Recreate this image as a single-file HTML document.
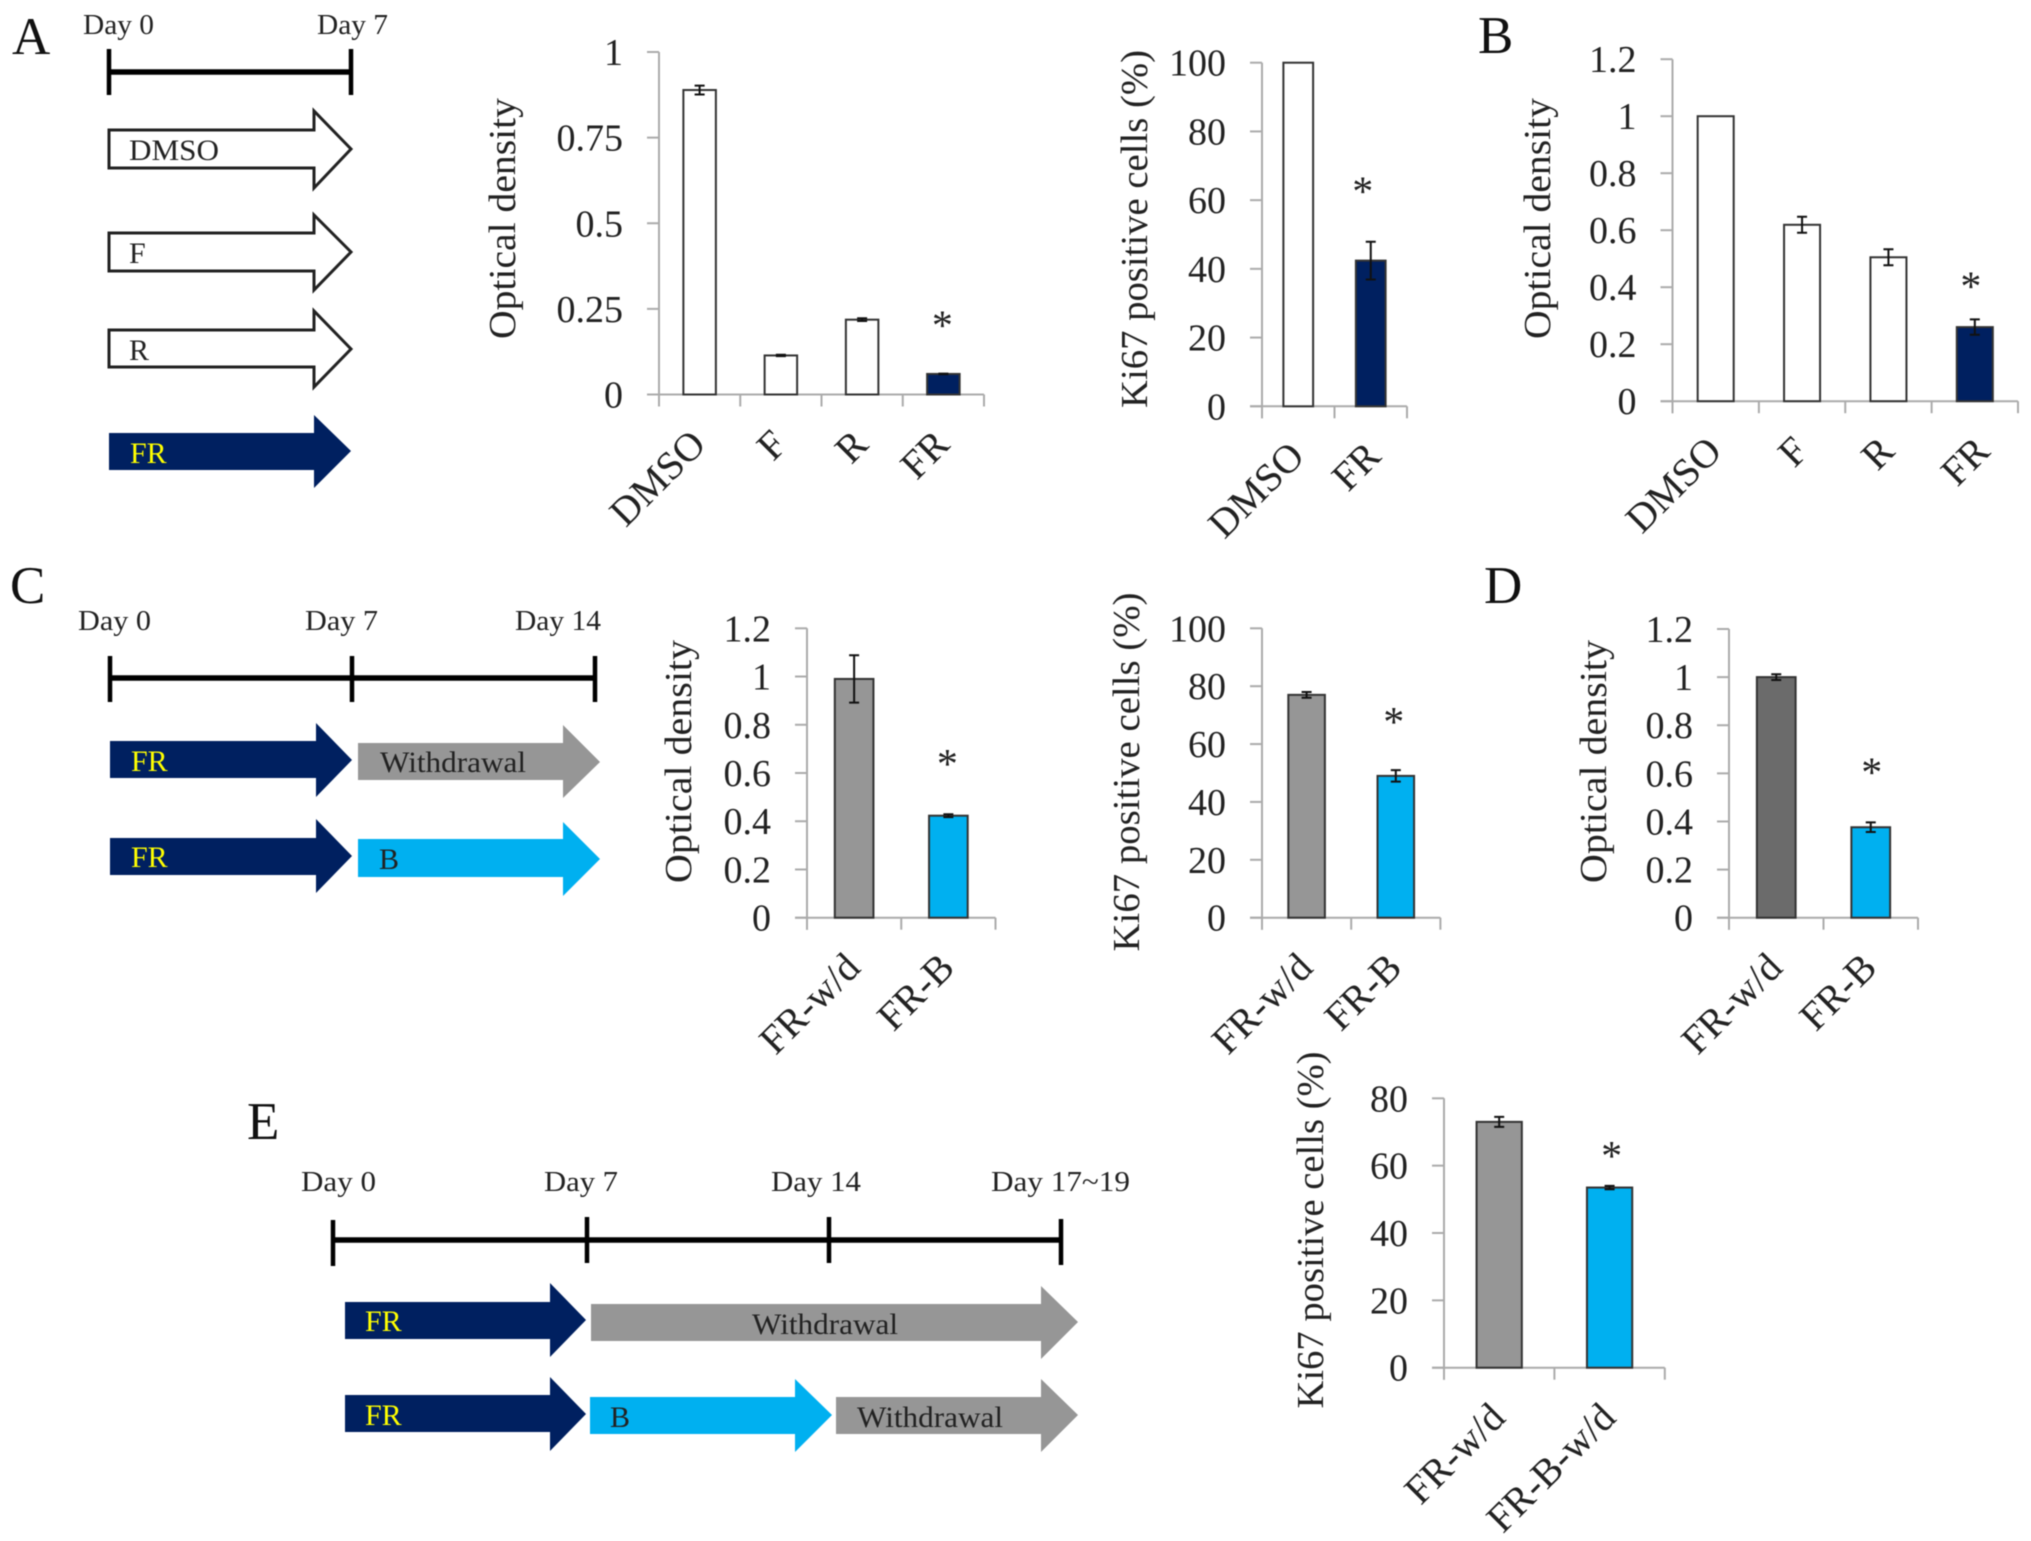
<!DOCTYPE html>
<html lang="en">
<head>
<meta charset="utf-8">
<title>Optical density and Ki67 panels A-E</title>
<style>
html,body{margin:0;padding:0;background:#fff;}
svg{display:block;filter:blur(0.5px);}
text{font-family:"Liberation Serif",serif;fill:#222;}
.panel{font-size:53px;fill:#111;}
.day{font-size:29px;}
.lbl{font-size:30px;}
.fr{font-size:30px;fill:#ffff00;}
.tl{stroke:#000;fill:none;}
</style>
</head>
<body>
<svg id="figure" xmlns="http://www.w3.org/2000/svg" width="2031" height="1541" viewBox="0 0 2031 1541">
<rect x="0" y="0" width="2031" height="1541" fill="#fff"/>

<text class="panel" x="12" y="54">A</text>
<text class="panel" x="1478" y="53">B</text>
<text class="panel" x="10" y="603">C</text>
<text class="panel" x="1484" y="603">D</text>
<text class="panel" x="247" y="1139">E</text>

<g>
<path class="tl" stroke-width="5.5" d="M109 72H351"/>
<path class="tl" stroke-width="4.5" d="M109 49V95M351 49V95"/>
<text class="day" x="83" y="34" textLength="71" lengthAdjust="spacingAndGlyphs">Day 0</text>
<text class="day" x="317" y="34" textLength="71" lengthAdjust="spacingAndGlyphs">Day 7</text>
</g>
<g>
<polygon points="109,130 314,130 314,111 351,149 314,188 314,168 109,168" fill="#fff" stroke="#222" stroke-width="3"/>
<text class="lbl" x="129" y="160" textLength="90" lengthAdjust="spacingAndGlyphs">DMSO</text>
<polygon points="109,233 314,233 314,215 351,252 314,290 314,271 109,271" fill="#fff" stroke="#222" stroke-width="3"/>
<text class="lbl" x="129" y="263">F</text>
<polygon points="109,330 314,330 314,311 351,349 314,387 314,367 109,367" fill="#fff" stroke="#222" stroke-width="3"/>
<text class="lbl" x="129" y="360">R</text>
<polygon points="109,433 314,433 314,415 351,451 314,488 314,470 109,470" fill="#002060"/>
<text class="fr" x="130" y="463">FR</text>
</g>

<g>
<path class="tl" stroke-width="5.5" d="M109 678H595"/>
<path class="tl" stroke-width="4.5" d="M110 656V702M352 656V702M595 656V702"/>
<text class="day" x="78" y="630" textLength="73" lengthAdjust="spacingAndGlyphs">Day 0</text>
<text class="day" x="305" y="630" textLength="73" lengthAdjust="spacingAndGlyphs">Day 7</text>
<text class="day" x="515" y="630" textLength="86" lengthAdjust="spacingAndGlyphs">Day 14</text>
</g>
<g>
<polygon points="110,741 316,741 316,723 352,760 316,797 316,778 110,778" fill="#002060"/>
<text class="fr" x="131" y="771">FR</text>
<polygon points="358,743 563,743 563,725 600,762 563,798 563,780 358,780" fill="#969696"/>
<text class="lbl" x="380" y="772" textLength="146" lengthAdjust="spacingAndGlyphs">Withdrawal</text>
<polygon points="110,838 316,838 316,819 352,856 316,893 316,875 110,875" fill="#002060"/>
<text class="fr" x="131" y="867">FR</text>
<polygon points="358,839 563,839 563,822 600,859 563,896 563,877 358,877" fill="#00b0f0"/>
<text class="lbl" x="379" y="869" fill="#222">B</text>
</g>

<g>
<path class="tl" stroke-width="5.5" d="M333 1240H1061"/>
<path class="tl" stroke-width="4.5" d="M333 1220V1266M587 1217V1263M829 1217V1263M1061 1219V1265"/>
<text class="day" x="301" y="1191" textLength="75" lengthAdjust="spacingAndGlyphs">Day 0</text>
<text class="day" x="544" y="1191" textLength="74" lengthAdjust="spacingAndGlyphs">Day 7</text>
<text class="day" x="771" y="1191" textLength="90" lengthAdjust="spacingAndGlyphs">Day 14</text>
<text class="day" x="991" y="1191" textLength="139" lengthAdjust="spacingAndGlyphs">Day 17~19</text>
</g>
<g>
<polygon points="345,1302 550,1302 550,1283 586,1320 550,1357 550,1339 345,1339" fill="#002060"/>
<text class="fr" x="365" y="1331">FR</text>
<polygon points="591,1304 1041,1304 1041,1286 1078,1322 1041,1359 1041,1341 591,1341" fill="#969696"/>
<text class="lbl" x="752" y="1334" textLength="146" lengthAdjust="spacingAndGlyphs">Withdrawal</text>
<polygon points="345,1395 550,1395 550,1377 586,1414 550,1451 550,1432 345,1432" fill="#002060"/>
<text class="fr" x="365" y="1425">FR</text>
<polygon points="590,1397 795,1397 795,1379 832,1415 795,1452 795,1434 590,1434" fill="#00b0f0"/>
<text class="lbl" x="610" y="1427">B</text>
<polygon points="836,1397 1041,1397 1041,1379 1078,1415 1041,1452 1041,1434 836,1434" fill="#969696"/>
<text class="lbl" x="857" y="1427" textLength="146" lengthAdjust="spacingAndGlyphs">Withdrawal</text>
</g>
</svg>

<script>
const odTitle = 'Optical density';
const kiTitle = 'Ki67 positive cells (%)';

const a1Categories = ['DMSO', 'F', 'R', 'FR'];
const a1Values = [0.889, 0.114, 0.2185, 0.06];
const a1Errors = [0.013, 0.002, 0.004, 0.001];
const a1Ticks = [0, 0.25, 0.5, 0.75, 1];
const a1TickLabels = ['0', '0.25', '0.5', '0.75', '1'];
const a1Significant = [false, false, false, true];

const a2Categories = ['DMSO', 'FR'];
const a2Values = [100, 42.4];
const a2Errors = [0, 5.5];
const a2Ticks = [0, 20, 40, 60, 80, 100];
const a2TickLabels = ['0', '20', '40', '60', '80', '100'];
const a2Significant = [false, true];

const bCategories = ['DMSO', 'F', 'R', 'FR'];
const bValues = [1, 0.619, 0.505, 0.26];
const bErrors = [0, 0.028, 0.028, 0.027];
const bTicks = [0, 0.2, 0.4, 0.6, 0.8, 1, 1.2];
const bTickLabels = ['0', '0.2', '0.4', '0.6', '0.8', '1', '1.2'];
const bSignificant = [false, false, false, true];

const c1Categories = ['FR-w/d', 'FR-B'];
const c1Values = [0.99, 0.423];
const c1Errors = [0.098, 0.006];
const c1Ticks = [0, 0.2, 0.4, 0.6, 0.8, 1, 1.2];
const c1TickLabels = ['0', '0.2', '0.4', '0.6', '0.8', '1', '1.2'];
const c1Significant = [false, true];

const c2Categories = ['FR-w/d', 'FR-B'];
const c2Values = [77, 49];
const c2Errors = [1, 2];
const c2Ticks = [0, 20, 40, 60, 80, 100];
const c2TickLabels = ['0', '20', '40', '60', '80', '100'];
const c2Significant = [false, true];

const dCategories = ['FR-w/d', 'FR-B'];
const dValues = [1, 0.376];
const dErrors = [0.012, 0.02];
const dTicks = [0, 0.2, 0.4, 0.6, 0.8, 1, 1.2];
const dTickLabels = ['0', '0.2', '0.4', '0.6', '0.8', '1', '1.2'];
const dSignificant = [false, true];

const eCategories = ['FR-w/d', 'FR-B-w/d'];
const eValues = [73, 53.5];
const eErrors = [1.5, 0.5];
const eTicks = [0, 20, 40, 60, 80];
const eTickLabels = ['0', '20', '40', '60', '80'];
const eSignificant = [false, true];

const SVG_NS = 'http://www.w3.org/2000/svg';
const figure = document.getElementById('figure');

function make(parent, tag, attrs, text) {
  const el = document.createElementNS(SVG_NS, tag);
  for (const key in attrs) el.setAttribute(key, attrs[key]);
  if (text !== undefined) el.textContent = text;
  parent.appendChild(el);
  return el;
}

function slug(s) {
  return String(s).toLowerCase().replace(/[^a-z0-9]+/g, '-');
}

function drawChart(id, box, title, categories, values, errors, ticks, tickLabels, significant, fills) {
  const g = make(figure, 'g', {});
  
  

  const yMax = ticks[ticks.length - 1];
  const yScale = function (v) { return box.y0 - (v / yMax) * (box.y0 - box.top); };
  const band = (box.right - box.left) / categories.length;
  const xCenter = function (i) { return box.left + (i + 0.5) * band; };
  const barWidth = band * box.barRatio;
  const axisColor = '#ababab';

  const yAxis = make(g, 'line', {x1: box.left, x2: box.left, y1: box.top, y2: box.y0 + 12, stroke: axisColor, 'stroke-width': 2});
  
  

  const xAxis = make(g, 'line', {x1: box.left - 12, x2: box.right, y1: box.y0, y2: box.y0, stroke: axisColor, 'stroke-width': 2});
  
  

  ticks.forEach(function (t, i) {
    const y = yScale(t);
    const tick = make(g, 'line', {x1: box.left - 12, x2: box.left, y1: y, y2: y, stroke: axisColor, 'stroke-width': 2});
    
    
    const label = make(g, 'text', {x: box.left - 36, y: y + 13, 'text-anchor': 'end', 'font-size': 38}, tickLabels[i]);
    
    
  });

  for (let i = 0; i <= categories.length; i++) {
    const x = box.left + i * band;
    const tick = make(g, 'line', {x1: x, x2: x, y1: box.y0, y2: box.y0 + 12, stroke: axisColor, 'stroke-width': 2});
    
    
  }

  categories.forEach(function (c, i) {
    const cx = xCenter(i);
    const top = yScale(values[i]);
    const bar = make(g, 'rect', {x: cx - barWidth / 2, y: top, width: barWidth, height: box.y0 - top, fill: fills[i], stroke: '#333', 'stroke-width': 2});
    
    

    if (errors[i] > 0) {
      const hi = yScale(values[i] + errors[i]);
      const lo = yScale(values[i] - errors[i]);
      const err = make(g, 'path', {d: 'M' + (cx - 5) + ' ' + hi + 'H' + (cx + 5) + 'M' + cx + ' ' + hi + 'V' + lo + 'M' + (cx - 5) + ' ' + lo + 'H' + (cx + 5), stroke: '#111', 'stroke-width': 2, fill: 'none'});
      
      
    }

    const lx = cx + 8 + (box.lastLabelShift && i === categories.length - 1 ? box.lastLabelShift : 0);
    const ly = box.y0 + 52;
    const label = make(g, 'text', {x: lx, y: ly, 'text-anchor': 'end', 'font-size': 40, transform: 'rotate(-45 ' + lx + ' ' + ly + ')'}, c);
    
    

    if (significant[i]) {
      const starY = yScale(values[i] + errors[i]) - box.starGap + 18;
      const star = make(g, 'text', {x: cx + box.starDx, y: starY, 'text-anchor': 'middle', 'font-size': 42}, '*');
      
      
    }
  });

  const yTitle = make(g, 'text', {x: box.titleX, y: box.titleY, 'text-anchor': 'middle', 'font-size': 38, textLength: box.titleLength, lengthAdjust: 'spacingAndGlyphs', transform: 'rotate(-90 ' + box.titleX + ' ' + box.titleY + ')'}, title);
  
  
}

drawChart('chart-a-optical-density',
  {left: 659, right: 984, top: 52, y0: 394.5, barRatio: 0.4, starGap: 52, starDx: -1, titleX: 515, titleY: 218.5, titleLength: 241},
  odTitle, a1Categories, a1Values, a1Errors, a1Ticks, a1TickLabels, a1Significant, ['#fff', '#fff', '#fff', '#002060']);

drawChart('chart-a-ki67',
  {left: 1262, right: 1407, top: 62.7, y0: 406.3, barRatio: 0.41, starGap: 54, starDx: -8, titleX: 1147, titleY: 229, titleLength: 358, lastLabelShift: 4},
  kiTitle, a2Categories, a2Values, a2Errors, a2Ticks, a2TickLabels, a2Significant, ['#fff', '#002060']);

drawChart('chart-b-optical-density',
  {left: 1672.5, right: 2018, top: 59.2, y0: 401.2, barRatio: 0.417, starGap: 37, starDx: -4, titleX: 1550, titleY: 218.5, titleLength: 241, lastLabelShift: 9},
  odTitle, bCategories, bValues, bErrors, bTicks, bTickLabels, bSignificant, ['#fff', '#fff', '#fff', '#002060']);

drawChart('chart-c-optical-density',
  {left: 807, right: 995.5, top: 628.3, y0: 917.7, barRatio: 0.41, starGap: 54, starDx: -1, titleX: 691, titleY: 761.5, titleLength: 243},
  odTitle, c1Categories, c1Values, c1Errors, c1Ticks, c1TickLabels, c1Significant, ['#969696', '#00b0f0']);

drawChart('chart-c-ki67',
  {left: 1262, right: 1440.4, top: 628.3, y0: 917.7, barRatio: 0.41, starGap: 52, starDx: -2, titleX: 1139, titleY: 772, titleLength: 359},
  kiTitle, c2Categories, c2Values, c2Errors, c2Ticks, c2TickLabels, c2Significant, ['#969696', '#00b0f0']);

drawChart('chart-d-optical-density',
  {left: 1729, right: 1918, top: 629, y0: 917.7, barRatio: 0.41, starGap: 54, starDx: 1, titleX: 1606, titleY: 761.5, titleLength: 243},
  odTitle, dCategories, dValues, dErrors, dTicks, dTickLabels, dSignificant, ['#6b6b6b', '#00b0f0']);

drawChart('chart-e-ki67',
  {left: 1444, right: 1664.8, top: 1098.3, y0: 1367.7, barRatio: 0.41, starGap: 34, starDx: 2, titleX: 1323, titleY: 1230, titleLength: 357},
  kiTitle, eCategories, eValues, eErrors, eTicks, eTickLabels, eSignificant, ['#969696', '#00b0f0']);
</script>
</body>
</html>
